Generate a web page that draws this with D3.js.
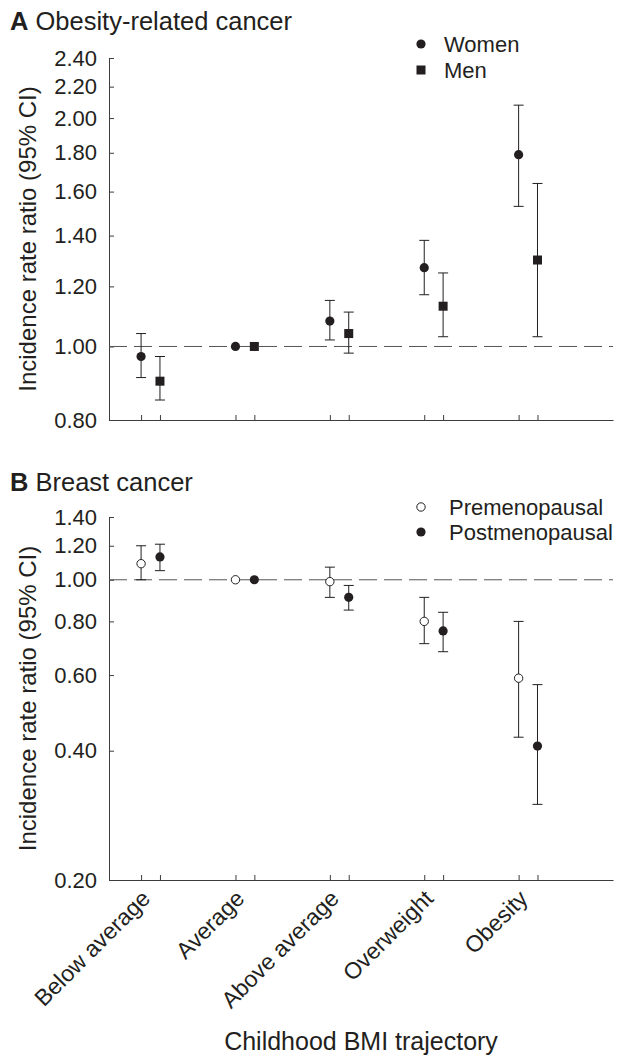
<!DOCTYPE html>
<html>
<head>
<meta charset="utf-8">
<script src="https://cdn.jsdelivr.net/npm/d3@7"></script>
<style>
  body { margin: 0; background: #fff; }
  svg text { font-family: "Liberation Sans", Arial, Helvetica, sans-serif; fill: #231f20; }
</style>
</head>
<body>
<div id="chart"></div>
<script>
// categories on the x axis
var categories = ["Below average", "Average", "Above average", "Overweight", "Obesity"];

// panel A: obesity-related cancer
var womenIRR = [0.97, 1.00, 1.08, 1.27, 1.79];
var womenLo  = [0.91, null, 1.02, 1.17, 1.53];
var womenHi  = [1.04, null, 1.15, 1.38, 2.08];
var menIRR   = [0.90, 1.00, 1.04, 1.13, 1.30];
var menLo    = [0.85, null, 0.98, 1.03, 1.03];
var menHi    = [0.97, null, 1.11, 1.25, 1.64];

// panel B: breast cancer
var preIRR  = [1.09, 1.00, 0.99, 0.80, 0.59];
var preLo   = [1.00, null, 0.91, 0.71, 0.43];
var preHi   = [1.20, null, 1.07, 0.91, 0.80];
var postIRR = [1.13, 1.00, 0.91, 0.76, 0.41];
var postLo  = [1.05, null, 0.85, 0.68, 0.30];
var postHi  = [1.21, null, 0.97, 0.84, 0.57];

var ticksA = [0.80, 1.00, 1.20, 1.40, 1.60, 1.80, 2.00, 2.20, 2.40];
var ticksB = [0.20, 0.40, 0.60, 0.80, 1.00, 1.20, 1.40];

var width = 619, height = 1061;
var ink = "#231f20", axisCol = "#3c3c3c";

var svg = d3.select("#chart").append("svg")
    .attr("width", width)
    .attr("height", height);

// shared x position (category index), groups offset by +-0.1
var x = d3.scaleLinear()
    .domain([-0.44, 4.9])
    .range([109, 613]);
var off = 0.1;

function panel(opts) {
  var y = d3.scaleLog()
      .domain(opts.domain)
      .range(opts.range);

  var g = svg.append("g");

  // panel title
  var t = g.append("text")
      .attr("x", 10)
      .attr("y", opts.titleY)
      .style("font-size", "25.5px");
  t.append("tspan").attr("font-weight", "bold").text(opts.letter);
  t.append("tspan").text(" " + opts.title);

  // y axis
  var ya = g.append("g")
      .attr("transform", "translate(" + x.range()[0] + ",0)")
      .call(d3.axisLeft(y)
        .tickValues(opts.ticks)
        .tickFormat(d3.format(".2f"))
        .tickSizeInner(-5)
        .tickSizeOuter(0)
        .tickPadding(12));
  ya.select(".domain").attr("stroke", axisCol);
  ya.selectAll(".tick line").attr("stroke", axisCol);
  ya.selectAll(".tick text").style("font-size", "22px").attr("fill", ink);

  // x axis, ticks at each marker position
  var xticks = [];
  categories.forEach(function(c, i) { xticks.push(i - off, i + off); });
  var xa = g.append("g")
      .attr("transform", "translate(0," + opts.range[0] + ")")
      .call(d3.axisBottom(x)
        .tickValues(xticks)
        .tickFormat("")
        .tickSizeInner(-5)
        .tickSizeOuter(0));
  xa.select(".domain").attr("stroke", axisCol);
  xa.selectAll(".tick line").attr("stroke", axisCol);

  // reference line at 1
  g.append("line")
      .attr("x1", x.range()[0]).attr("x2", x.range()[1])
      .attr("y1", y(1)).attr("y2", y(1))
      .attr("stroke", "#555")
      .attr("stroke-width", 1)
      .attr("stroke-dasharray", "18,7");

  // y axis title
  g.append("text")
      .attr("transform", "translate(36," + ((opts.range[0] + opts.range[1]) / 2) + ") rotate(-90)")
      .attr("text-anchor", "middle")
      .style("font-size", "24px")
      .text("Incidence rate ratio (95% CI)");

  opts.series.forEach(function(s, k) {
    var dx = k === 0 ? -off : off;
    var rows = categories.map(function(c, i) {
      return { i: i, v: s.v[i], lo: s.lo[i], hi: s.hi[i] };
    });
    var withCI = rows.filter(function(d) { return d.lo != null; });
    var eb = g.append("g").attr("stroke", ink).attr("stroke-width", 1);
    eb.selectAll(".v").data(withCI).enter().append("line")
        .attr("x1", function(d) { return x(d.i + dx); })
        .attr("x2", function(d) { return x(d.i + dx); })
        .attr("y1", function(d) { return y(d.lo); })
        .attr("y2", function(d) { return y(d.hi); });
    ["lo", "hi"].forEach(function(key) {
      eb.selectAll(".c" + key).data(withCI).enter().append("line")
          .attr("x1", function(d) { return x(d.i + dx) - 5; })
          .attr("x2", function(d) { return x(d.i + dx) + 5; })
          .attr("y1", function(d) { return y(d[key]); })
          .attr("y2", function(d) { return y(d[key]); });
    });
    drawMarks(g, rows, s.shape, function(d) { return x(d.i + dx); }, function(d) { return y(d.v); });

    // legend entry
    var ly = opts.legendY[k];
    drawMarks(g, [0], s.shape, function() { return 421; }, function() { return ly; });
    g.append("text")
        .attr("x", opts.legendX)
        .attr("y", ly)
        .attr("dy", "0.35em")
        .style("font-size", "22px")
        .text(s.name);
  });
}

function drawMarks(g, rows, shape, fx, fy) {
  if (shape === "square") {
    g.selectAll(null).data(rows).enter().append("rect")
        .attr("x", function(d) { return fx(d) - 4.5; })
        .attr("y", function(d) { return fy(d) - 4.5; })
        .attr("width", 9).attr("height", 9)
        .attr("fill", ink);
  } else {
    g.selectAll(null).data(rows).enter().append("circle")
        .attr("cx", fx).attr("cy", fy)
        .attr("r", shape === "open" ? 4.2 : 4.6)
        .attr("fill", shape === "open" ? "#fff" : ink)
        .attr("stroke", ink)
        .attr("stroke-width", shape === "open" ? 1 : 0);
  }
}

panel({
  letter: "A", title: "Obesity-related cancer", titleY: 30,
  domain: [0.8, 2.4], range: [420, 58], ticks: ticksA,
  legendX: 444, legendY: [44, 70],
  series: [
    { name: "Women", shape: "circle", v: womenIRR, lo: womenLo, hi: womenHi },
    { name: "Men", shape: "square", v: menIRR, lo: menLo, hi: menHi }
  ]
});

panel({
  letter: "B", title: "Breast cancer", titleY: 491,
  domain: [0.2, 1.4], range: [880, 517], ticks: ticksB,
  legendX: 449, legendY: [507, 532],
  series: [
    { name: "Premenopausal", shape: "open", v: preIRR, lo: preLo, hi: preHi },
    { name: "Postmenopausal", shape: "circle", v: postIRR, lo: postLo, hi: postHi }
  ]
});

// rotated category labels
svg.append("g").selectAll("text")
    .data(categories)
    .enter().append("text")
    .attr("transform", function(d, i) { return "translate(" + (x(i) + 1) + ",900) rotate(-45)"; })
    .attr("text-anchor", "end")
    .style("font-size", "23px")
    .text(function(d) { return d; });

svg.append("text")
    .attr("x", (x.range()[0] + x.range()[1]) / 2)
    .attr("y", 1050)
    .attr("text-anchor", "middle")
    .style("font-size", "25px")
    .text("Childhood BMI trajectory");
</script>
</body>
</html>
